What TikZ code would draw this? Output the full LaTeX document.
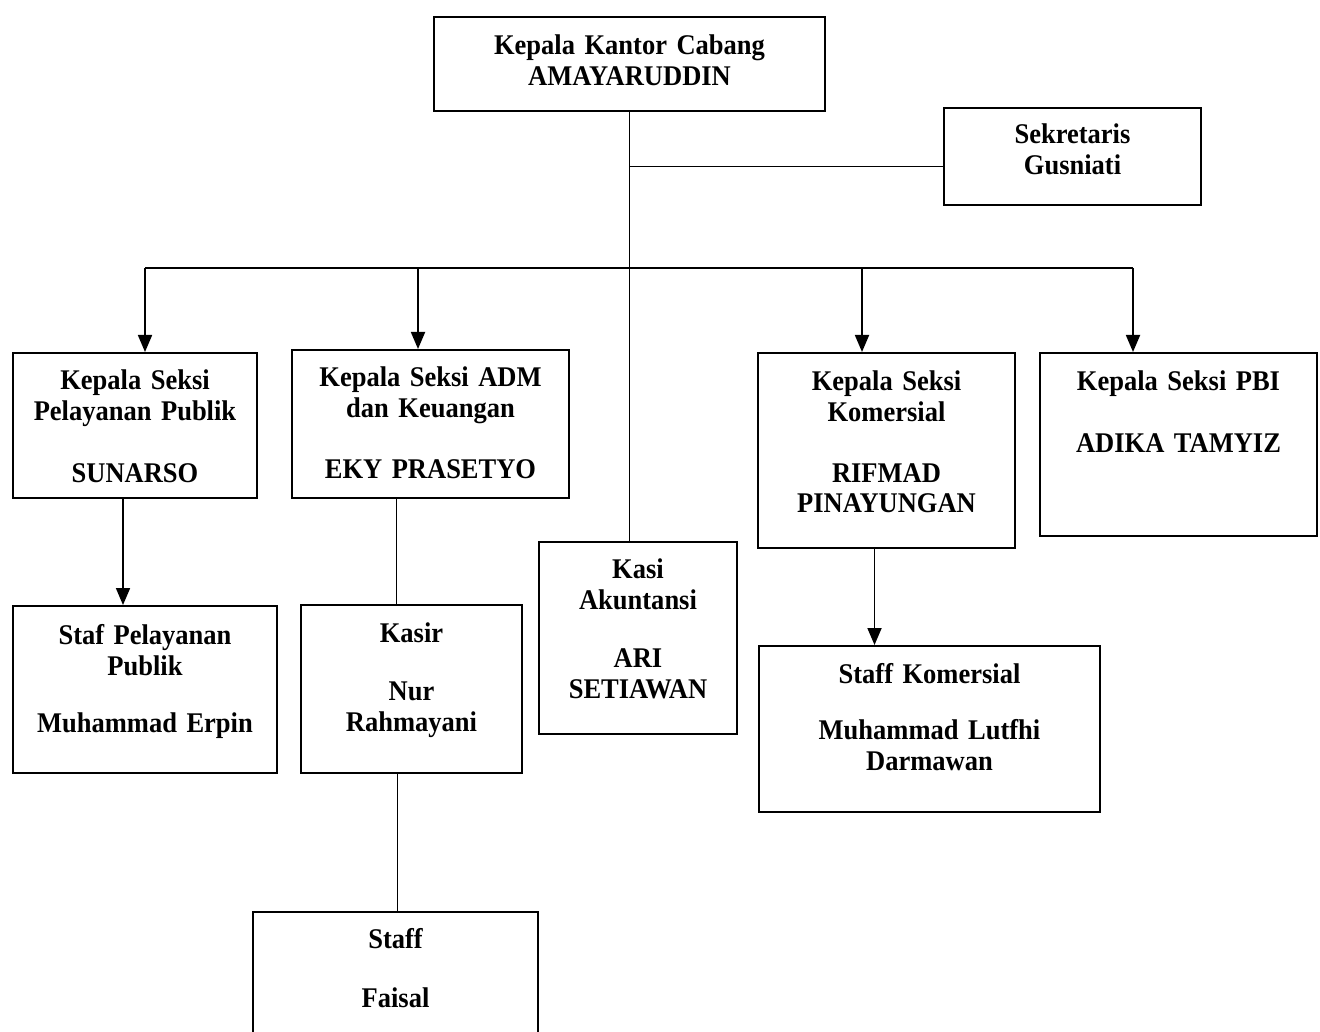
\documentclass[tikz,border=0pt]{standalone}
\usepackage{fontspec}
\setmainfont{Liberation Serif}[FakeStretch=0.93, WordSpace=0.8]
\usetikzlibrary{arrows.meta,positioning,calc}

\begin{document}
\begin{tikzpicture}[
  x=1pt, y=-1pt,
  >={Triangle[width=14pt,length=17pt]},
  font=\fontsize{28.5}{31}\selectfont\bfseries,
  orgbox/.style={
    draw,
    line width=2pt,
    inner xsep=0pt,
    inner ysep=0pt,
    anchor=north west,
    align=center,
    text width=#1
  },
  link/.style={
    line width=1.8pt
  },
  linkarrow/.style={
    ->,
    line width=1.8pt
  }
]
  \useasboundingbox (0,0) rectangle (1320,1032);

  % Head of branch and secretary
  \node[orgbox=391pt, text height=38pt, text depth=56pt] (kepala) at (433,16) {
    Kepala Kantor Cabang\\
    AMAYARUDDIN
  };

  \node[orgbox=257pt, text height=36pt, text depth=61pt] (sekretaris) at (943,107) {
    Sekretaris\\
    Gusniati
  };

  % --- Section heads ---
  \node[orgbox=244pt, text height=36pt, text depth=109pt] (pelayanan) at (12,352) {
    Kepala Seksi\\
    Pelayanan Publik\\[31pt]
    SUNARSO
  };

  \node[orgbox=277pt, text height=36pt, text depth=112pt] (adm) at (291,349) {
    Kepala Seksi ADM\\
    dan Keuangan\\[30pt]
    EKY PRASETYO
  };

  \node[orgbox=257pt, text height=37pt, text depth=158pt] (komersial) at (757,352) {
    Kepala Seksi\\
    Komersial\\[30pt]
    RIFMAD\\
    PINAYUNGAN
  };

  \node[orgbox=277pt, text height=37pt, text depth=146pt] (pbi) at (1039,352) {
    Kepala Seksi PBI\\[31pt]
    ADIKA TAMYIZ
  };

  \node[orgbox=198pt, text height=36pt, text depth=156pt] (akuntansi) at (538,541) {
    Kasi\\
    Akuntansi\\[27pt]
    ARI\\
    SETIAWAN
  };

  % --- Staff ---
  \node[orgbox=264pt, text height=38pt, text depth=129pt] (stafpel) at (12,605) {
    Staf Pelayanan\\
    Publik\\[26pt]
    Muhammad Erpin
  };

  \node[orgbox=221pt, text height=37pt, text depth=131pt] (kasir) at (300,604) {
    Kasir\\[27pt]
    Nur\\
    Rahmayani
  };

  \node[orgbox=285pt, text height=36pt, text depth=114pt] (staff) at (252,911) {
    Staff\\[28pt]
    Faisal
  };

  \node[orgbox=341pt, text height=37pt, text depth=129pt] (stafkom) at (758,645) {
    Staff Komersial\\[25pt]
    Muhammad Lutfhi\\
    Darmawan
  };

  % Bus points
  \coordinate (bus1) at (145,268);
  \coordinate (bus2) at (418,268);
  \coordinate (bus4) at (862,268);
  \coordinate (bus5) at (1133,268);
  \coordinate (sekin) at ([yshift=-10pt]sekretaris.west);

  % Connecting lines
  \draw[link] (kepala.south) -- (kepala.south |- akuntansi.north);
  \draw[link] (kepala.south |- sekin) -- (sekin);
  \draw[link] (bus1) -- (bus5);
  \draw[linkarrow] (bus1) -- (bus1 |- pelayanan.north);
  \draw[linkarrow] (bus2) -- (bus2 |- adm.north);
  \draw[linkarrow] (bus4) -- (bus4 |- komersial.north);
  \draw[linkarrow] (bus5) -- (bus5 |- pbi.north);

  \draw[linkarrow] ([xshift=-12pt]pelayanan.south) -- ([xshift=-12pt]pelayanan.south |- stafpel.north);
  \draw[link] ([xshift=-34pt]adm.south) -- ([xshift=-34pt]adm.south |- kasir.north);
  \draw[link] ([xshift=-14pt]kasir.south) -- ([xshift=-14pt]kasir.south |- staff.north);
  \draw[linkarrow] ([xshift=-12pt]komersial.south) -- ([xshift=-12pt]komersial.south |- stafkom.north);

\end{tikzpicture}
\end{document}
